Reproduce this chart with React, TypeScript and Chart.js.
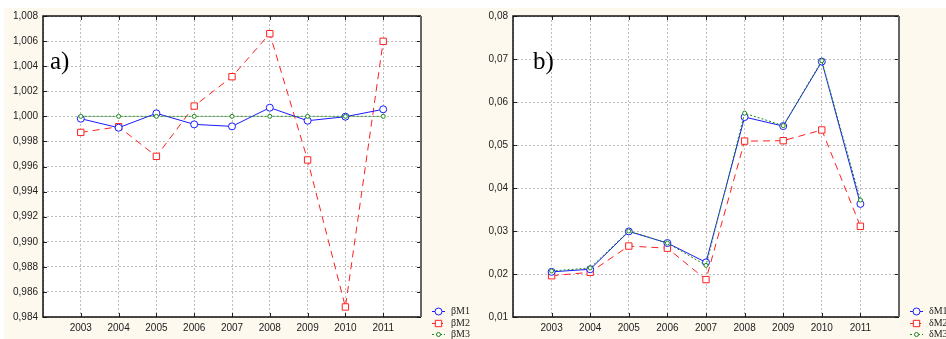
import React, { useEffect, useRef } from "react";
import { Chart, registerables } from "chart.js";

Chart.register(...registerables);

const years = [2003, 2004, 2005, 2006, 2007, 2008, 2009, 2010, 2011];

const betaM1 = [0.99981, 0.99909, 1.00024, 0.99936, 0.9992, 1.00069, 0.99965, 0.99997, 1.00056];
const betaM2 = [0.99872, 0.99917, 0.99681, 1.00082, 1.00316, 1.00659, 0.99652, 0.9848, 1.00598];
const betaM3 = [1.0, 1.0, 1.0, 1.0, 1.0, 1.0, 1.0, 1.0, 1.0];

const deltaM1 = [0.0205, 0.0211, 0.0299, 0.0272, 0.0227, 0.0565, 0.0544, 0.0694, 0.0363];
const deltaM2 = [0.0196, 0.0204, 0.0265, 0.026, 0.0187, 0.0509, 0.051, 0.0535, 0.0311];
const deltaM3 = [0.0207, 0.0214, 0.03, 0.0272, 0.022, 0.0574, 0.0545, 0.0696, 0.0372];

const betaLabels = ["\u03B2M1", "\u03B2M2", "\u03B2M3"];
const deltaLabels = ["\u03B4M1", "\u03B4M2", "\u03B4M3"];

const COL_BLUE = "#1a1aff";
const COL_RED = "#ff2020";
const COL_GREEN = "#1a8a1a";

type PanelCfg = {
  series: number[][];
  labels: string[];
  yMin: number;
  yMax: number;
  yStep: number;
  yDecimals: number;
  yAxisWidth: number;
  padRight: number;
  tag: string;
  tagX: number;
  legLineX: number;
};

function drawMarker(ctx: CanvasRenderingContext2D, style: string, x: number, y: number, r: number, color: string) {
  ctx.save();
  ctx.setLineDash([]);
  ctx.lineWidth = 1;
  ctx.strokeStyle = color;
  ctx.fillStyle = "#ffffff";
  ctx.beginPath();
  if (style === "rect") {
    const s = r * Math.SQRT1_2;
    ctx.rect(x - s, y - s, 2 * s, 2 * s);
  } else {
    ctx.arc(x, y, r, 0, Math.PI * 2);
  }
  ctx.fill();
  ctx.stroke();
  ctx.restore();
}

const framePlugin = {
  id: "frame",
  beforeDraw(chart: any) {
    const { ctx, chartArea } = chart;
    ctx.save();
    ctx.fillStyle = "#ffffff";
    ctx.fillRect(chartArea.left, chartArea.top, chartArea.right - chartArea.left, chartArea.bottom - chartArea.top);
    ctx.restore();
  },
  afterDraw(chart: any, _args: any, opts: any) {
    const { ctx, chartArea } = chart;
    const { left, right, top, bottom } = chartArea;
    ctx.save();
    ctx.setLineDash([]);
    ctx.strokeStyle = "#222";
    ctx.lineWidth = 1;
    const ys = chart.scales.y;
    ys.ticks.forEach((t: any) => {
      const py = Math.round(ys.getPixelForValue(t.value)) + 0.5;
      ctx.beginPath();
      ctx.moveTo(left, py);
      ctx.lineTo(left + 4, py);
      ctx.moveTo(right - 4, py);
      ctx.lineTo(right, py);
      ctx.stroke();
    });
    const xs = chart.scales.x;
    years.forEach((yr) => {
      const px = Math.round(xs.getPixelForValue(yr)) + 0.5;
      ctx.beginPath();
      ctx.moveTo(px, bottom);
      ctx.lineTo(px, bottom - 4);
      ctx.moveTo(px, top);
      ctx.lineTo(px, top + 4);
      ctx.stroke();
    });
    ctx.strokeStyle = "#111";
    ctx.lineWidth = 1.5;
    ctx.beginPath();
    ctx.moveTo(right, top);
    ctx.lineTo(left, top);
    ctx.lineTo(left, bottom);
    ctx.lineTo(right, bottom);
    ctx.stroke();
    ctx.strokeStyle = "#666";
    ctx.lineWidth = 2;
    ctx.beginPath();
    ctx.moveTo(right, top);
    ctx.lineTo(right, bottom);
    ctx.stroke();

    ctx.fillStyle = "#000";
    ctx.font = '25px "Liberation Serif"';
    ctx.textBaseline = "alphabetic";
    ctx.textAlign = "left";
    ctx.fillText(opts.tag, opts.tagX, 69);

    const rows = [311, 323, 334];
    chart.data.datasets.forEach((ds: any, i: number) => {
      const y = rows[i] + 0.5;
      const x0 = opts.legLineX;
      ctx.save();
      ctx.strokeStyle = ds.borderColor;
      ctx.lineWidth = 1;
      ctx.setLineDash(i === 0 ? [] : i === 1 ? [4, 3] : [2, 2]);
      ctx.beginPath();
      ctx.moveTo(x0, y);
      ctx.lineTo(x0 + 13, y);
      ctx.stroke();
      ctx.restore();
      drawMarker(ctx, ds.pointStyle, x0 + 6.5, y, i === 2 ? 2 : i === 1 ? 4.5 : 3.5, ds.borderColor);
      ctx.fillStyle = "#222";
      ctx.font = '10px "Liberation Serif"';
      ctx.textBaseline = "middle";
      ctx.textAlign = "left";
      ctx.fillText(ds.label, x0 + 19, y);
    });
    ctx.restore();
  },
};

function Panel({ cfg, left }: { cfg: PanelCfg; left: number }) {
  const ref = useRef<HTMLCanvasElement | null>(null);
  useEffect(() => {
    if (!ref.current) return;
    const styles = [
      { color: COL_BLUE, dash: [] as number[], point: "circle", r: 3.5 },
      { color: COL_RED, dash: [7, 5], point: "rect", r: 4.5 },
      { color: COL_GREEN, dash: [2, 2], point: "circle", r: 2 },
    ];
    const datasets = cfg.series.map((vals, i) => ({
      label: cfg.labels[i],
      data: years.map((yr, j) => ({ x: yr, y: vals[j] })),
      borderColor: styles[i].color,
      backgroundColor: "#ffffff",
      borderWidth: 1,
      borderDash: styles[i].dash,
      pointStyle: styles[i].point,
      pointRadius: styles[i].r,
      pointBorderWidth: 1,
      pointBackgroundColor: "#ffffff",
      pointBorderColor: styles[i].color,
      tension: 0,
      fill: false,
      order: i === 0 ? 1 : i === 1 ? 2 : 0,
    }));
    const chart = new Chart(ref.current, {
      type: "line",
      data: { datasets },
      options: {
        animation: false,
        responsive: false,
        maintainAspectRatio: false,
        layout: { padding: { top: 16, right: cfg.padRight, left: 0, bottom: 0 } },
        plugins: {
          legend: { display: false },
          tooltip: { enabled: false },
          frame: { tag: cfg.tag, tagX: cfg.tagX, legLineX: cfg.legLineX },
        } as any,
        scales: {
          x: {
            type: "linear",
            min: 2002,
            max: 2012,
            afterFit: (s: any) => {
              s.height = 22;
            },
            afterBuildTicks: (s: any) => {
              s.ticks = [2002, ...years, 2012].map((v) => ({ value: v }));
            },
            ticks: {
              stepSize: 1,
              autoSkip: false,
              maxRotation: 0,
              padding: 5,
              color: "#222",
              font: { family: '"Liberation Sans", Arial, sans-serif', size: 10 },
              callback: (v: any) => (v === 2002 || v === 2012 ? "" : String(v)),
            },
            grid: { color: "#bdbdbd", lineWidth: 1, drawTicks: false },
            border: { display: false, dash: [2, 2] },
          },
          y: {
            type: "linear",
            min: cfg.yMin,
            max: cfg.yMax,
            afterFit: (s: any) => {
              s.width = cfg.yAxisWidth;
            },
            afterBuildTicks: (s: any) => {
              const n = Math.round((cfg.yMax - cfg.yMin) / cfg.yStep);
              const arr = [];
              for (let k = 0; k <= n; k++) arr.push({ value: cfg.yMin + k * cfg.yStep });
              s.ticks = arr;
            },
            ticks: {
              padding: 5,
              color: "#222",
              font: { family: '"Liberation Sans", Arial, sans-serif', size: 10 },
              callback: (v: any) => Number(v).toFixed(cfg.yDecimals).replace(".", ","),
            },
            grid: { color: "#bdbdbd", lineWidth: 1, drawTicks: false },
            border: { display: false, dash: [2, 2] },
          },
        },
      },
      plugins: [framePlugin as any],
    });
    return () => chart.destroy();
  }, [cfg]);
  return (
    <canvas
      ref={ref}
      width={473}
      height={339}
      style={{ position: "absolute", left, top: 0, width: 473, height: 339 }}
    />
  );
}

const cfgA: PanelCfg = {
  series: [betaM1, betaM2, betaM3],
  labels: betaLabels,
  yMin: 0.984,
  yMax: 1.008,
  yStep: 0.002,
  yDecimals: 3,
  yAxisWidth: 43,
  padRight: 52,
  tag: "a)",
  tagX: 50,
  legLineX: 432,
};

const cfgB: PanelCfg = {
  series: [deltaM1, deltaM2, deltaM3],
  labels: deltaLabels,
  yMin: 0.01,
  yMax: 0.08,
  yStep: 0.01,
  yDecimals: 2,
  yAxisWidth: 40,
  padRight: 47,
  tag: "b)",
  tagX: 60,
  legLineX: 437,
};

export default function App() {
  return (
    <div style={{ position: "fixed", left: 0, top: 0, width: 946, height: 339, background: "#ffffff", overflow: "hidden" }}>
      <div style={{ position: "absolute", left: 4, top: 8, width: 942, height: 331, background: "#fdf9ee" }} />
      <Panel cfg={cfgA} left={0} />
      <Panel cfg={cfgB} left={473} />
    </div>
  );
}
